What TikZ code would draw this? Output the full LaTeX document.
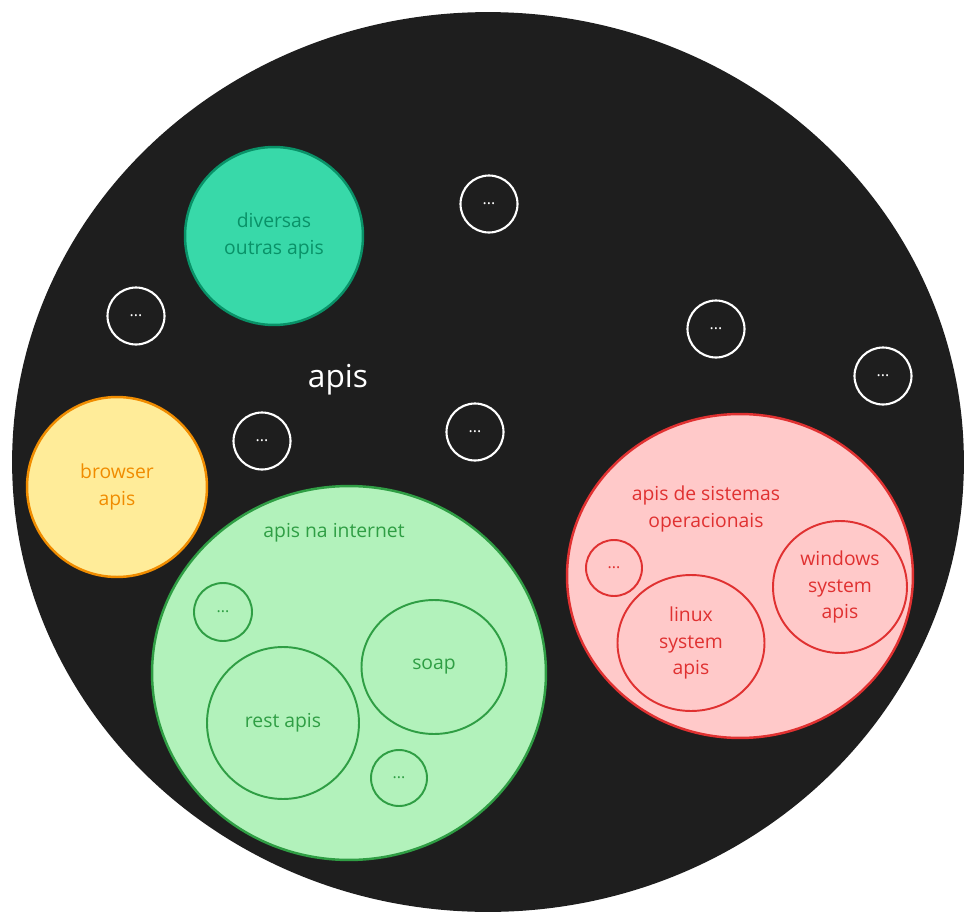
\documentclass[tikz,border=0pt]{standalone}
\usepackage{fontspec}
\setmainfont{Open Sans}
\usetikzlibrary{shapes.geometric}
\definecolor{canvasblack}{HTML}{1E1E1E}
\definecolor{tealfill}{HTML}{38D9A9}
\definecolor{tealdraw}{HTML}{099268}
\definecolor{yellowfill}{HTML}{FFEC99}
\definecolor{yellowdraw}{HTML}{F08C00}
\definecolor{greenfill}{HTML}{B2F2BB}
\definecolor{greendraw}{HTML}{2F9E44}
\definecolor{redfill}{HTML}{FFC9C9}
\definecolor{reddraw}{HTML}{E03131}
\tikzset{
    api_group/.style={
        ellipse,
        line width=1.4pt,
        inner sep=0pt,
        align=center,
        font=\fontsize{11}{15}\selectfont
    },
    api_leaf/.style={
        ellipse,
        line width=1.1pt,
        inner sep=0pt,
        align=center,
        font=\fontsize{11}{15}\selectfont
    },
    api_more/.style={
        circle,
        draw=white,
        line width=1.2pt,
        minimum size=1.14cm,
        inner sep=0pt,
        text=white,
        font=\fontsize{9}{10}\selectfont
    },
    api_title/.style={
        align=center,
        font=\fontsize{11}{15}\selectfont
    }
}

\begin{document}
\begin{tikzpicture}[x=0.02cm, y=-0.02cm]
\useasboundingbox (0,0) rectangle (975,923);

% Universe of apis
\node[ellipse, fill=canvasblack, minimum width=19.04cm, minimum height=18cm] (Universe) at (488,462) {};
\node[text=white, font=\fontsize{18}{20}\selectfont] (UniverseTitle) at (338,380) {apis};

% Loose groups
\node[api_group, draw=tealdraw, fill=tealfill, text=tealdraw, minimum size=3.56cm] (Others) at (274,236)
  {diversas\\outras apis};
\node[api_group, draw=yellowdraw, fill=yellowfill, text=yellowdraw, minimum size=3.6cm] (Browser) at (117,487)
  {browser\\apis};

% Unnamed apis
\node[api_more] (MoreA) at (489,204) {...};
\node[api_more] (MoreB) at (136,316) {...};
\node[api_more] (MoreC) at (716,329) {...};
\node[api_more] (MoreD) at (883,376) {...};
\node[api_more] (MoreE) at (262,441) {...};
\node[api_more] (MoreF) at (475,432) {...};

% Internet apis
\node[api_group, draw=greendraw, fill=greenfill, minimum width=7.88cm, minimum height=7.48cm] (Internet) at (349,673) {};
\node[api_title, text=greendraw] (InternetTitle) at (334,533) {apis na internet};
\node[api_leaf, draw=greendraw, text=greendraw, minimum size=3.04cm] (Rest) at (283,723) {rest apis};
\node[api_leaf, draw=greendraw, text=greendraw, minimum width=2.9cm, minimum height=2.68cm] (Soap) at (434,667) {soap};
\node[api_more, draw=greendraw, text=greendraw, line width=1.1pt, minimum size=1.16cm] (InternetMoreA) at (223,612) {...};
\node[api_more, draw=greendraw, text=greendraw, line width=1.1pt, minimum size=1.12cm] (InternetMoreB) at (399,778) {...};

% Operating system apis
\node[api_group, draw=reddraw, fill=redfill, minimum width=6.92cm, minimum height=6.48cm] (System) at (740,576) {};
\node[api_title, text=reddraw] (SystemTitle) at (706,509) {apis de sistemas\\operacionais};
\node[api_leaf, draw=reddraw, text=reddraw, minimum width=2.94cm, minimum height=2.72cm] (Linux) at (691,643)
  {linux\\system\\apis};
\node[api_leaf, draw=reddraw, text=reddraw, minimum width=2.68cm, minimum height=2.64cm] (Windows) at (840,587)
  {windows\\system\\apis};
\node[api_more, draw=reddraw, text=reddraw, line width=1.1pt, minimum size=1.12cm] (SystemMore) at (614,568) {...};

\end{tikzpicture}
\end{document}
